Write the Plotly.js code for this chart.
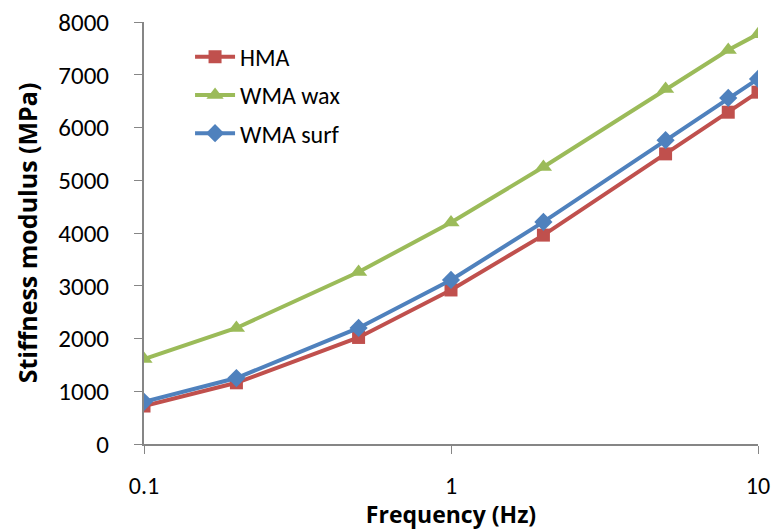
<!DOCTYPE html>
<html>
<head>
<meta charset="utf-8">
<script src="https://cdn.plot.ly/plotly-3.0.1.min.js"></script>
<style>body{margin:0;padding:0;background:#fff;} #chart{width:773px;height:530px;}</style>
</head>
<body>
<div id="chart"></div>
<script>
const frequency = [0.1, 0.2, 0.5, 1, 2, 5, 8, 10];
const hma = [720, 1160, 2020, 2920, 3960, 5500, 6290, 6670];
const wmaWax = [1610, 2200, 3260, 4200, 5250, 6730, 7470, 7770];
const wmaSurf = [800, 1250, 2200, 3110, 4210, 5760, 6560, 6920];
const seriesNames = ["HMA", "WMA wax", "WMA surf"];
const xTicks = [0.1, 1, 10];
const xTickText = ["0.1", "1", "10"];
const yTicks = [0, 1000, 2000, 3000, 4000, 5000, 6000, 7000, 8000];

const font = "Carlito, Calibri, Lato, 'Open Sans', sans-serif";
const titleFont = "'Open Sans', sans-serif";

const traces = [
  {x: frequency, y: hma, name: seriesNames[0], legendgroup: "a", mode: "lines+markers",
   line: {color: "#C0504D", width: 4}, marker: {symbol: "square", size: 13, color: "#C0504D"}},
  {x: frequency, y: wmaWax, name: seriesNames[1], legendgroup: "b", mode: "lines+markers",
   line: {color: "#9BBB59", width: 4}, marker: {symbol: "triangle-up", size: 15, color: "#9BBB59"}},
  {x: frequency, y: wmaSurf, name: seriesNames[2], legendgroup: "c", mode: "lines+markers",
   line: {color: "#4F81BD", width: 4}, marker: {symbol: "diamond", size: 14, color: "#4F81BD"}}
];

const layout = {
  width: 773, height: 530,
  margin: {l: 144, r: 15, t: 22, b: 86},
  paper_bgcolor: "#fff", plot_bgcolor: "#fff",
  font: {family: font, size: 24, color: "#000"},
  showlegend: true,
  legend: {x: 0.075, y: 0.97, xanchor: "left", yanchor: "top",
           font: {family: font, size: 24, color: "#000"},
           traceorder: "grouped",
           bgcolor: "rgba(0,0,0,0)", tracegroupgap: 4, itemwidth: 40},
  xaxis: {
    type: "log", range: [-1, 1], tickvals: xTicks, ticktext: xTickText,
    showgrid: false, zeroline: false, showline: true, linecolor: "#868686", linewidth: 2,
    ticks: "outside", ticklen: 8, tickcolor: "#868686", tickwidth: 1,
    tickfont: {family: font, size: 24}, ticklabelstandoff: 11,
    title: {text: "<b>Frequency (Hz)</b>", font: {family: titleFont, size: 23}, standoff: 0}
  },
  yaxis: {
    range: [0, 8000], tickvals: yTicks,
    showgrid: false, zeroline: false, showline: true, linecolor: "#868686", linewidth: 2,
    ticks: "outside", ticklen: 8, tickcolor: "#868686", tickwidth: 1,
    tickfont: {family: font, size: 25}, ticklabelstandoff: 20,
    title: {text: "<b>Stiffness modulus (MPa)</b>", font: {family: titleFont, size: 25}, standoff: 14}
  }
};

Plotly.newPlot("chart", traces, layout, {displayModeBar: false, staticPlot: true});
</script>
</body>
</html>
